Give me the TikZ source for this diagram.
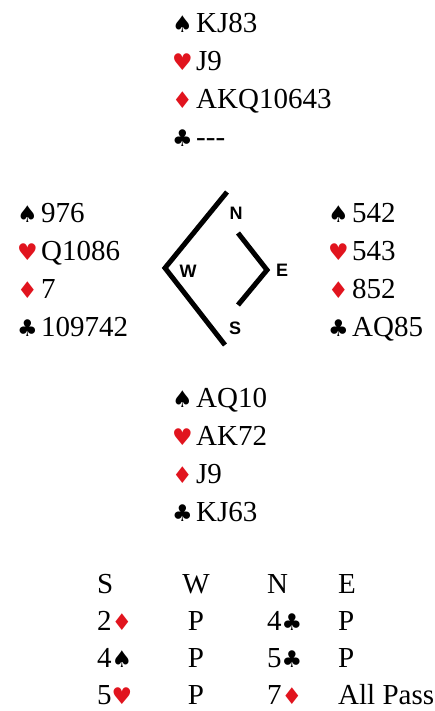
\documentclass[tikz,border=0pt]{standalone}
\usepackage{fontspec}
\setmainfont{Liberation Serif}
\newfontfamily\symfont{DejaVu Sans}
\newfontfamily\labfont{Liberation Sans}
\usetikzlibrary{positioning}

\definecolor{suitred}{RGB}{225,20,30}
\newcommand\suitch[2]{{\color{#1}\symfont\fontsize{23}{23}\selectfont #2}}
\newcommand\spadesym{\suitch{black}{♠}}
\newcommand\heartsym{\suitch{suitred}{♥}}
\newcommand\diamsym{\suitch{suitred}{♦}}
\newcommand\clubsym{\suitch{black}{♣}}
\newcommand\handsuit[1]{\makebox[24pt][l]{#1}}

\begin{document}
\begin{tikzpicture}[
    x=1pt, y=-1pt,
    hand/.style={anchor=base west, align=left, inner sep=0, font=\fontsize{29}{38}\selectfont},
    compass/.style={line width=5pt, line join=miter},
    seat/.style={inner sep=0, font=\labfont\bfseries\fontsize{18}{18}\selectfont},
    bid/.style={anchor=base west, inner sep=0, font=\fontsize{29}{29}\selectfont}
]
    \useasboundingbox (0,0) rectangle (435,711);

    % the four hands (anchored at the baseline of the last line)
    \node[hand] (north) at (172,147) {\handsuit\spadesym KJ83\\ \handsuit\heartsym J9\\ \handsuit\diamsym AKQ10643\\ \handsuit\clubsym -{}-{}-};
    \node[hand] (west)  at (17,336)  {\handsuit\spadesym 976\\ \handsuit\heartsym Q1086\\ \handsuit\diamsym 7\\ \handsuit\clubsym 109742};
    \node[hand] (east)  at (328,336) {\handsuit\spadesym 542\\ \handsuit\heartsym 543\\ \handsuit\diamsym 852\\ \handsuit\clubsym AQ85};
    \node[hand] (south) at (172,521) {\handsuit\spadesym AQ10\\ \handsuit\heartsym AK72\\ \handsuit\diamsym J9\\ \handsuit\clubsym KJ63};

    % compass
    \coordinate (wtop) at (227,192);
    \coordinate (wpt)  at (165,268);
    \coordinate (wbot) at (225,345);
    \coordinate (etop) at (238,233);
    \coordinate (ept)  at (267,270);
    \coordinate (ebot) at (238,305);
    \draw[compass] (wtop) -- (wpt) -- (wbot);
    \draw[compass] (etop) -- (ept) -- (ebot);

    \node[seat] (seatN) at (236,213) {N};
    \node[seat] (seatW) at (188,271) {W};
    \node[seat] (seatE) at (282,270) {E};
    \node[seat] (seatS) at (235,328) {S};

    % auction
    \foreach \s/\w/\n/\e [count=\r from 0] in {S/W/N/E, 2\diamsym/P/4\clubsym/P, 4\spadesym/P/5\clubsym/P, 5\heartsym/P/7\diamsym/All Pass} {
        \node[bid] (bidS\r) at (97,{593+37*\r}) {\s};
        \node[bid, anchor=base] (bidW\r) at (196,{593+37*\r}) {\w};
        \node[bid] (bidN\r) at (267,{593+37*\r}) {\n};
        \node[bid] (bidE\r) at (338,{593+37*\r}) {\e};
    }
\end{tikzpicture}
\end{document}
